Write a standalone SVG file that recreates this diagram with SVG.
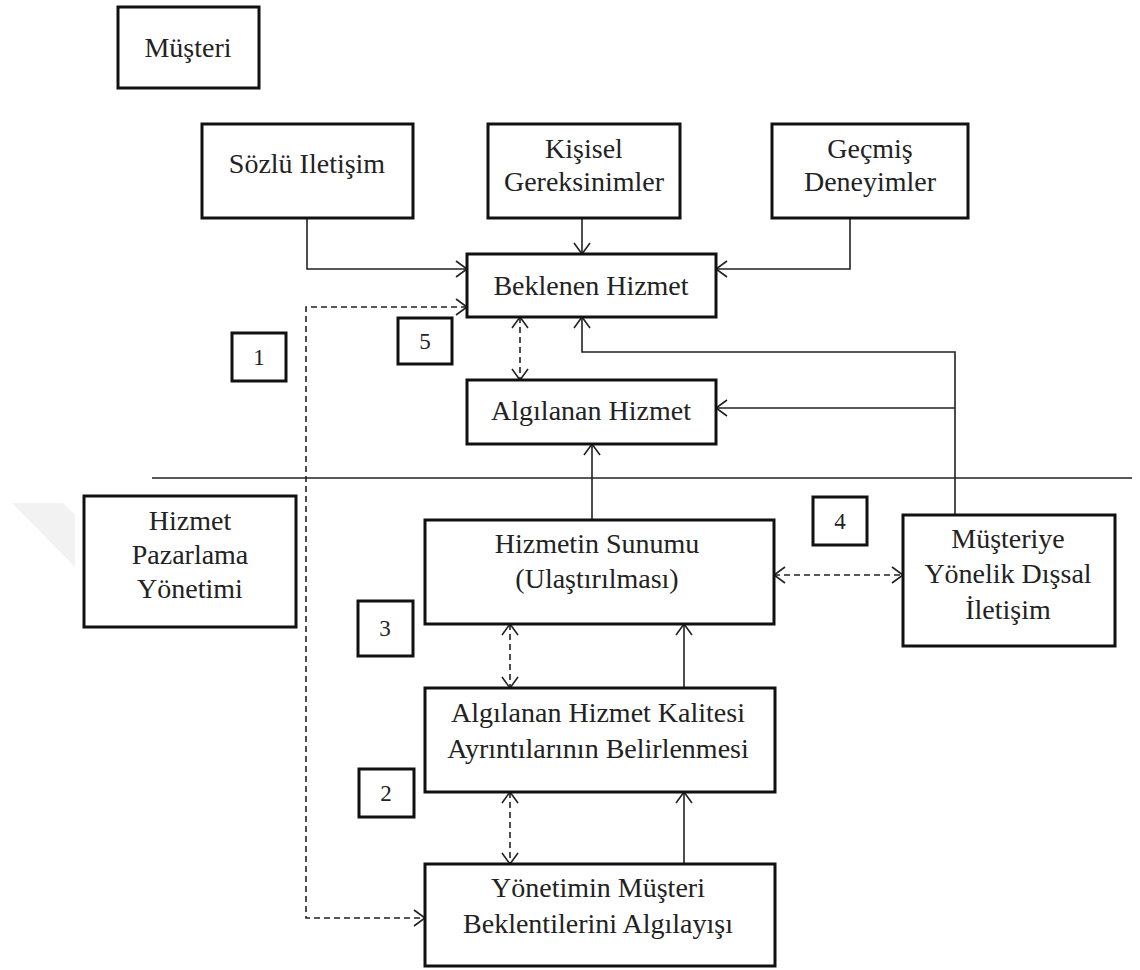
<svg xmlns="http://www.w3.org/2000/svg" width="1140" height="970" viewBox="0 0 1140 970">
<defs>
<style>
.box{fill:#fff;stroke:#111;stroke-width:3}
.num{fill:#fff;stroke:#111;stroke-width:3}
.t{font-family:"Liberation Serif","Times New Roman",serif;font-size:28px;fill:#222;text-anchor:middle}
.n{font-family:"Liberation Serif","Times New Roman",serif;font-size:23px;fill:#222;text-anchor:middle}
.c{fill:none;stroke:#222;stroke-width:1.6}
.d{fill:none;stroke:#222;stroke-width:1.6;stroke-dasharray:6,4}
.ah{fill:none;stroke:#222;stroke-width:1.6}
</style>
<marker id="arr" viewBox="0 0 13 18" refX="12" refY="9" markerWidth="13" markerHeight="18" markerUnits="userSpaceOnUse" orient="auto-start-reverse">
<path class="ah" d="M1,1 L12,9 L1,17"/>
</marker>
</defs>
<rect width="1140" height="970" fill="#fff"/>
<polygon points="12,503 63,503 75,515 75,567" fill="#f2f2f2"/>
<line x1="152" y1="478" x2="1132" y2="478" class="c"/>

<g id="connectors">
<path class="c" d="M307,218 V269 H467" marker-end="url(#arr)"/>
<path class="c" d="M582,218 V254" marker-end="url(#arr)"/>
<path class="c" d="M850,218 V269 H716" marker-end="url(#arr)"/>
<path class="d" d="M467,307 H306 V918 H425" marker-start="url(#arr)" marker-end="url(#arr)"/>
<path class="d" d="M520,317 V380" marker-start="url(#arr)" marker-end="url(#arr)"/>
<path class="c" d="M955,515 V352 H582 V317" marker-end="url(#arr)"/>
<path class="c" d="M955,408 H716" marker-end="url(#arr)"/>
<path class="c" d="M592,520 V444" marker-end="url(#arr)"/>
<path class="d" d="M774,575 H903" marker-start="url(#arr)" marker-end="url(#arr)"/>
<path class="d" d="M510,624 V688" marker-start="url(#arr)" marker-end="url(#arr)"/>
<path class="c" d="M684,688 V624" marker-end="url(#arr)"/>
<path class="d" d="M510,792 V864" marker-start="url(#arr)" marker-end="url(#arr)"/>
<path class="c" d="M684,864 V792" marker-end="url(#arr)"/>
</g>

<g id="musteri"><rect class="box" x="118" y="7" width="141" height="81"/><text class="t" x="188" y="57">Müşteri</text></g>
<g id="sozlu"><rect class="box" x="202" y="124" width="211" height="94"/><text class="t" x="307" y="173">Sözlü Iletişim</text></g>
<g id="kisisel"><rect class="box" x="488" y="124" width="192" height="94"/><text class="t" x="584" y="158">Kişisel</text><text class="t" x="584" y="191">Gereksinimler</text></g>
<g id="gecmis"><rect class="box" x="772" y="124" width="196" height="94"/><text class="t" x="870" y="158">Geçmiş</text><text class="t" x="870" y="191">Deneyimler</text></g>
<g id="beklenen"><rect class="box" x="467" y="254" width="249" height="63"/><text class="t" x="591" y="295">Beklenen Hizmet</text></g>
<g id="algilanan"><rect class="box" x="467" y="380" width="249" height="64"/><text class="t" x="591" y="420">Algılanan Hizmet</text></g>
<g id="pazarlama"><rect class="box" x="84" y="496" width="212" height="131"/><text class="t" x="190" y="530">Hizmet</text><text class="t" x="190" y="564">Pazarlama</text><text class="t" x="190" y="598">Yönetimi</text></g>
<g id="sunum"><rect class="box" x="425" y="520" width="349" height="104"/><text class="t" x="597" y="553">Hizmetin Sunumu</text><text class="t" x="597" y="588">(Ulaştırılması)</text></g>
<g id="dissal"><rect class="box" x="903" y="515" width="212" height="131"/><text class="t" x="1008" y="548">Müşteriye</text><text class="t" x="1008" y="583">Yönelik Dışsal</text><text class="t" x="1008" y="619">İletişim</text></g>
<g id="kalite"><rect class="box" x="425" y="688" width="350" height="104"/><text class="t" x="598" y="722">Algılanan Hizmet Kalitesi</text><text class="t" x="598" y="758">Ayrıntılarının Belirlenmesi</text></g>
<g id="yonetim"><rect class="box" x="425" y="864" width="350" height="102"/><text class="t" x="598" y="897">Yönetimin Müşteri</text><text class="t" x="598" y="933">Beklentilerini Algılayışı</text></g>

<g id="n1"><rect class="num" x="232" y="333" width="54" height="48"/><text class="n" x="259" y="365">1</text></g>
<g id="n5"><rect class="num" x="398" y="318" width="54" height="46"/><text class="n" x="425" y="349">5</text></g>
<g id="n4"><rect class="num" x="813" y="497" width="54" height="48"/><text class="n" x="840" y="529">4</text></g>
<g id="n3"><rect class="num" x="358" y="601" width="55" height="55"/><text class="n" x="385" y="636">3</text></g>
<g id="n2"><rect class="num" x="359" y="769" width="55" height="48"/><text class="n" x="386" y="801">2</text></g>
</svg>
